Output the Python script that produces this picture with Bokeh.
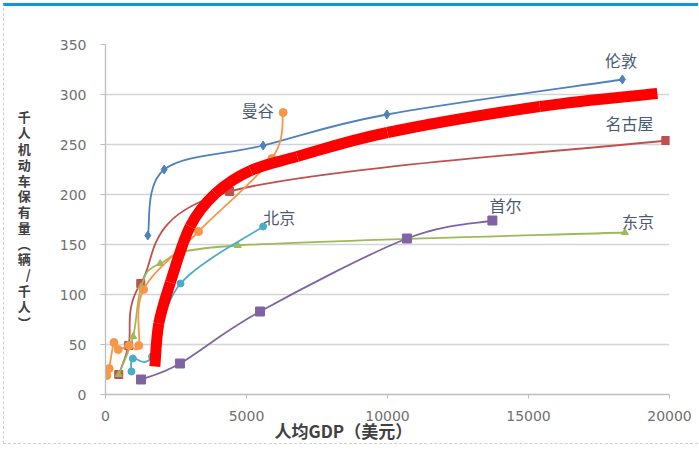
from bokeh.plotting import figure
from bokeh.models import Range1d, FixedTicker, Title, ColumnDataSource
from bokeh.core.properties import value
from bokeh.embed import file_html
from bokeh.resources import INLINE

# ---------------- data ----------------
london_x = [1500, 2080, 5590, 9980, 18330]
london_y = [159, 225, 249, 280, 315]

nagoya_x = [470, 820, 1250, 4400, 19870]
nagoya_y = [20, 49, 111, 203, 254]

tokyo_x = [470, 980, 1270, 1940, 4690, 18420]
tokyo_y = [20, 58, 108, 131, 149, 162]

seoul_x = [1260, 2640, 5480, 10690, 13720]
seoul_y = [15, 31, 83, 156, 174]

beijing_x = [920, 970, 1650, 2660, 5590]
beijing_y = [23, 36, 38, 111, 168]

bangkok_x = [50, 130, 300, 450, 830, 1180, 1350, 3300, 5900, 6300]
bangkok_y = [19, 26, 52, 45, 49, 49, 105, 163, 236, 282]

trend_x = [1750, 1890, 2300, 3000, 3900, 5150, 6800, 10000, 15400, 19570]
trend_y = [28, 71, 112, 168, 201, 224, 238, 262, 288, 301]

city_names = ["伦敦", "曼谷", "名古屋", "北京", "首尔", "东京"]
city_label_x = [18280, 5400, 18580, 6160, 14180, 18880]
city_label_y = [335, 285, 272, 178, 190, 174]

x_ticks = [0, 5000, 10000, 15000, 20000]
y_ticks = [0, 50, 100, 150, 200, 250, 300, 350]

x_title = "人均GDP（美元）"
y_title = "千人机动车保有量︵辆/千人︶"

CJK = "Noto Sans CJK SC"


def smooth(xs, ys):
    """Bezier segments (Catmull-Rom style, like Excel's smoothed lines)."""
    n = len(xs)
    d = dict(x0=[], y0=[], x1=[], y1=[], cx0=[], cy0=[], cx1=[], cy1=[])
    for i in range(n - 1):
        xp, yp = (xs[i - 1], ys[i - 1]) if i > 0 else (xs[i], ys[i])
        xn, yn = (xs[i + 2], ys[i + 2]) if i + 2 < n else (xs[i + 1], ys[i + 1])
        d["x0"].append(xs[i]); d["y0"].append(ys[i])
        d["x1"].append(xs[i + 1]); d["y1"].append(ys[i + 1])
        d["cx0"].append(xs[i] + (xs[i + 1] - xp) / 6.0)
        d["cy0"].append(ys[i] + (ys[i + 1] - yp) / 6.0)
        d["cx1"].append(xs[i + 1] - (xn - xs[i]) / 6.0)
        d["cy1"].append(ys[i + 1] - (yn - ys[i]) / 6.0)
    return ColumnDataSource(d)


p = figure(width=695, height=441, output_backend="svg", toolbar_location=None,
           x_range=Range1d(0, 20000), y_range=Range1d(0, 350),
           min_border_left=101, min_border_right=30,
           min_border_top=38, min_border_bottom=53)
p.styles = {"margin-top": "3px", "margin-left": "3px",
            "border-top": "3px solid #0A98DC",
            "border-left": "1px dashed #CFCFCF",
            "border-bottom": "1px dashed #CFCFCF"}
p.outline_line_color = None
p.background_fill_color = "white"
p.border_fill_color = "white"

p.xgrid.grid_line_color = None
p.ygrid.grid_line_color = "#D4D4D4"
p.ygrid.grid_line_width = 1.6

for ax in (p.xaxis, p.yaxis):
    ax.axis_line_color = "#BDBDBD"
    ax.axis_line_width = 1.3
    ax.major_tick_line_color = "#BDBDBD"
    ax.minor_tick_line_color = None
    ax.major_tick_in = 0
    ax.major_label_text_font = "DejaVu Sans"
    ax.major_label_text_font_size = "14px"
    ax.major_label_text_color = "#707070"

p.xaxis.ticker = FixedTicker(ticks=x_ticks)
p.yaxis.ticker = FixedTicker(ticks=y_ticks)
p.xaxis.major_tick_out = 4
p.xaxis.major_label_standoff = 12
p.yaxis.major_tick_out = 5
p.yaxis.major_label_standoff = 14

# y title: upright characters stacked vertically
p.yaxis.axis_label = "\n".join(y_title)
p.yaxis.axis_label_orientation = "horizontal"
p.yaxis.axis_label_standoff = 26
p.yaxis.axis_label_text_font = CJK
p.yaxis.axis_label_text_font_size = "13px"
p.yaxis.axis_label_text_font_style = "bold"
p.yaxis.axis_label_text_color = "#404040"
p.yaxis.axis_label_text_line_height = 0.83

# x title, shifted left like in the original
p.add_layout(Title(text=x_title, align="left", offset=169, standoff=-16,
                   text_font=CJK, text_font_size="17px",
                   text_font_style="bold", text_color="#404040"), "below")

series = [
    (london_x, london_y, "#4F81BD", "diamond", 9),
    (nagoya_x, nagoya_y, "#C0504D", "square", 8),
    (tokyo_x, tokyo_y, "#9BBB59", "triangle", 7),
    (seoul_x, seoul_y, "#8064A2", "square", 9),
    (beijing_x, beijing_y, "#4BACC6", "circle", 7),
    (bangkok_x, bangkok_y, "#F79646", "circle", 8),
]
for xs, ys, col, mk, sz in series:
    p.bezier(x0="x0", y0="y0", x1="x1", y1="y1", cx0="cx0", cy0="cy0",
             cx1="cx1", cy1="cy1", source=smooth(xs, ys),
             line_color=col, line_width=1.8)
    p.scatter(xs, ys, marker=mk, size=sz, fill_color=col, line_color=col)

# thick red trend curve on top
p.bezier(x0="x0", y0="y0", x1="x1", y1="y1", cx0="cx0", cy0="cy0",
         cx1="cx1", cy1="cy1", source=smooth(trend_x, trend_y),
         line_color="#FF0000", line_width=11)

p.text(x=city_label_x, y=city_label_y, text=city_names,
       text_font=value(CJK), text_font_size="16px", text_color="#4A5A74",
       text_align="center", text_baseline="middle")

open("out.html", "w").write(file_html(p, INLINE))
